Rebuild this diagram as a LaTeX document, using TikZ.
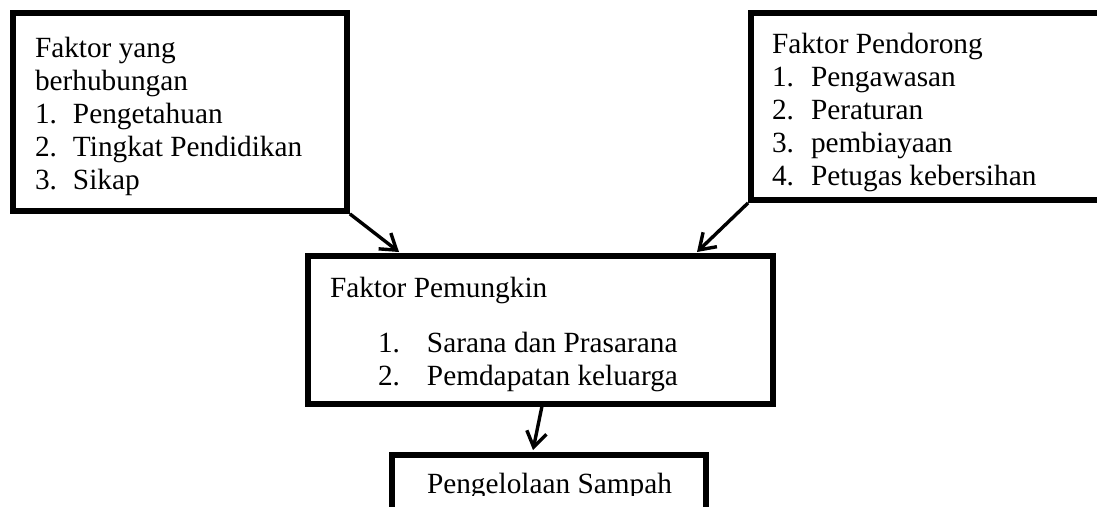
\documentclass[tikz,border=0pt]{standalone}
\usepackage{fontspec}
\setmainfont{Liberation Serif}
\usetikzlibrary{arrows.meta}
\begin{document}
\begin{tikzpicture}[x=1pt,y=-1pt,
  box/.style={draw=black, line width=5.8pt, rectangle, inner sep=0pt},
  txt/.style={anchor=base west, inner sep=0pt, outer sep=0pt, font=\fontsize{29.3}{33}\selectfont},
  arr/.style={line width=3.4pt, -{Straight Barb[length=15pt,width=20pt,line width=3.4pt]}}]
\useasboundingbox[fill=white] (0,0) rectangle (1097,506);
% boxes
\node[box, minimum width=334pt, minimum height=198pt] (b1) at (180,112) {};
\node[box, minimum width=359pt, minimum height=187pt] (b2) at (930.5,106.5) {};
\node[box, minimum width=465pt, minimum height=148pt] (b3) at (540.5,330) {};
\node[box, minimum width=314pt, minimum height=75pt] (b4) at (549,492.5) {};
% box 1 text
\node[txt] (t1a) at (35,57) {Faktor yang};
\node[txt] (t1b) at (35,90) {berhubungan};
\node[txt] (t1c) at (35,123) {\makebox[38pt][l]{1.}Pengetahuan};
\node[txt] (t1d) at (35,156) {\makebox[38pt][l]{2.}Tingkat Pendidikan};
\node[txt] (t1e) at (35,189) {\makebox[38pt][l]{3.}Sikap};
% box 2 text
\node[txt] (t2a) at (772,53) {Faktor Pendorong};
\node[txt] (t2b) at (772,86) {\makebox[39pt][l]{1.}Pengawasan};
\node[txt] (t2c) at (772,119) {\makebox[39pt][l]{2.}Peraturan};
\node[txt] (t2d) at (772,152) {\makebox[39pt][l]{3.}pembiayaan};
\begin{scope}
\clip (756,160) rectangle (1097,193);
\node[txt] (t2e) at (772,185) {\makebox[39pt][l]{4.}Petugas kebersihan};
\end{scope}
% box 3 text
\node[txt] (t3a) at (330,297) {Faktor Pemungkin};
\node[txt] (t3b) at (378,352) {\makebox[49pt][l]{1.}Sarana dan Prasarana};
\node[txt] (t3c) at (378,385) {\makebox[49pt][l]{2.}Pemdapatan keluarga};
% box 4 text
\begin{scope}
\clip (396,460) rectangle (702,495);
\node[txt] (t4a) at (427,493) {Pengelolaan Sampah};
\end{scope}
% connectors
\coordinate (e1) at (399,252);
\coordinate (e2) at (697,252);
\coordinate (s3) at (542,406);
\coordinate (e3) at (533,450);
\draw[arr] (b1.south east) -- (e1);
\draw[arr] (b2.south west) -- (e2);
\draw[arr] (s3) -- (e3);
\end{tikzpicture}
\end{document}
